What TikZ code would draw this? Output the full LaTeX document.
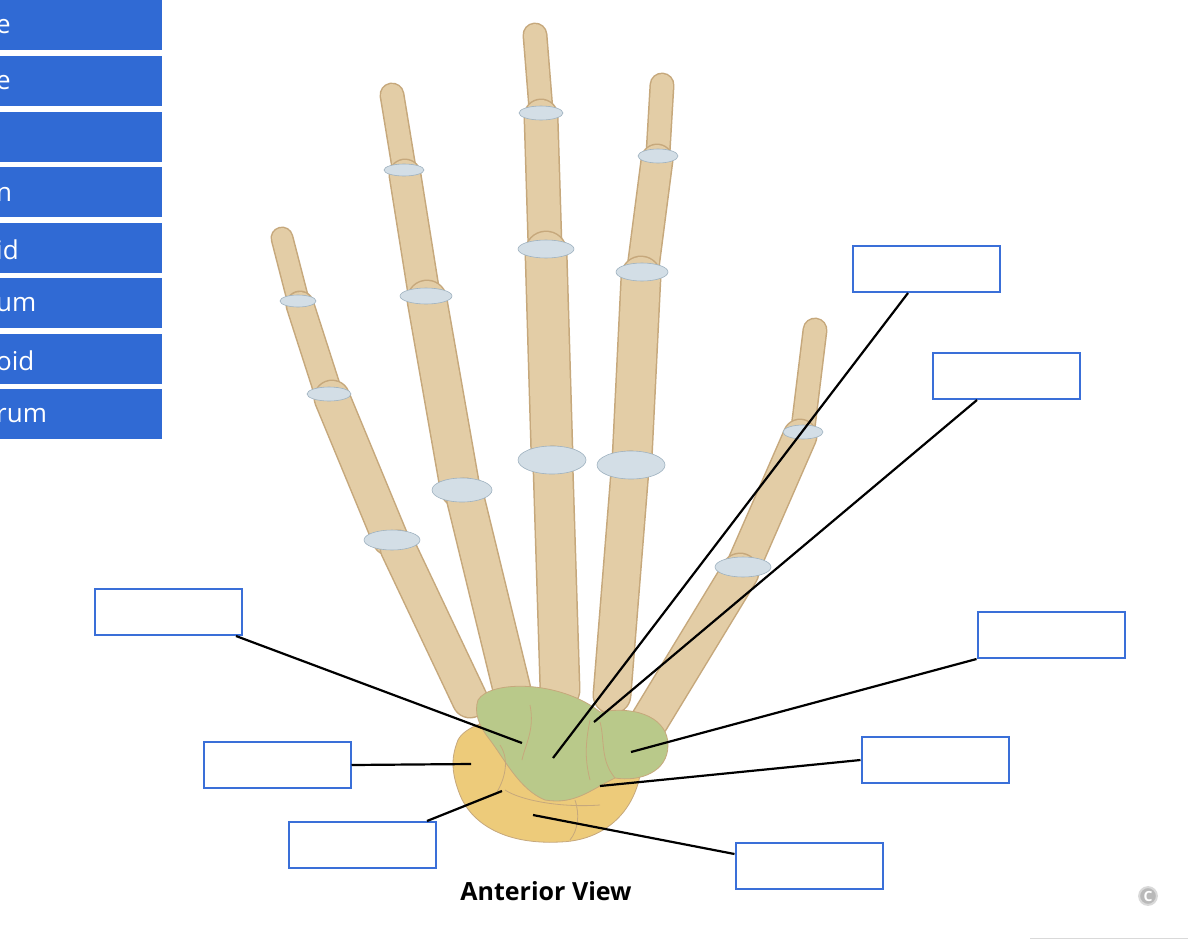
\documentclass[tikz,border=0pt]{standalone}
\usepackage{fontspec}
\setmainfont{Open Sans}
\begin{document}
\begin{tikzpicture}[x=1pt,y=-1pt,
  tab/.style={fill=tabblue,draw=none},
  lbox/.style={draw=boxblue,line width=2pt,fill=white,minimum width=147pt,minimum height=46pt,inner sep=0pt},
  lead/.style={line width=2.2pt,black},
  bonef/.style={line cap=round,draw=bonetan},
  boneo/.style={line cap=round,draw=boneline},
  jnt/.style={fill=jointblue,draw=jointline,line width=0.6pt},
  carp/.style={draw=boneline,line width=0.8pt}]
\definecolor{tabblue}{HTML}{306AD4}
\definecolor{boxblue}{HTML}{3A6FD8}
\definecolor{bonetan}{HTML}{E3CDA6}
\definecolor{boneline}{HTML}{C6A87C}
\definecolor{jointblue}{HTML}{D3DEE6}
\definecolor{jointline}{HTML}{9FB2C0}
\definecolor{carpgreen}{HTML}{B9C98A}
\definecolor{carpyellow}{HTML}{EDCB7A}
\useasboundingbox (0,0) rectangle (1188,940);
\fill[white] (0,0) rectangle (1188,940);
% tabs
\foreach \ya/\yb/\t in {0/50/e,56/106/e,112/162/{},167/217/n,223/273/id,278/328/um,334/384/oid,389/439/rum}{
  \fill[tab] (0,\ya) rectangle (162,\yb);
  \begin{scope}
  \clip (0,\ya) rectangle (162,\yb);
  \node[anchor=west,text=white,font=\fontsize{26}{26}\selectfont,inner sep=0pt] at (-4,{(\ya+\yb)/2+2}) {\t};
  \end{scope}
}
\newcommand\mybone[3]{\draw[boneo,line width=#3+3pt] #1 -- #2; \draw[bonef,line width=#3] #1 -- #2;}
% little
\mybone{(282,238)}{(298,300)}{20pt}
\mybone{(300,305)}{(328,392)}{26pt}
\mybone{(332,398)}{(390,538)}{34pt}
\mybone{(398,548)}{(470,700)}{34pt}
% ring
\mybone{(392,95)}{(404,168)}{22pt}
\mybone{(405,175)}{(424,294)}{30pt}
\mybone{(427,300)}{(460,488)}{38pt}
\mybone{(465,497)}{(512,690)}{36pt}
% middle
\mybone{(535,35)}{(541,110)}{22pt}
\mybone{(541,116)}{(545,246)}{32pt}
\mybone{(546,252)}{(552,455)}{40pt}
\mybone{(553,466)}{(560,690)}{38pt}
% index
\mybone{(662,85)}{(658,153)}{22pt}
\mybone{(657,160)}{(643,268)}{30pt}
\mybone{(641,276)}{(632,460)}{38pt}
\mybone{(630,470)}{(612,695)}{36pt}
% thumb
\mybone{(815,330)}{(803,428)}{22pt}
\mybone{(800,436)}{(745,562)}{32pt}
\mybone{(740,572)}{(650,720)}{36pt}
% joints
\foreach \x/\y/\w/\h in {298/301/18/6,329/394/22/7,392/540/28/10,404/170/20/6,426/296/26/8,462/490/30/12,541/113/22/7,546/249/28/9,552/460/34/14,658/156/20/7,642/272/26/9,631/465/34/14,803/432/20/7,743/567/28/10}
  \filldraw[jnt] (\x,\y) ellipse ({\w} and {\h});
% carpal base
\filldraw[carp,fill=carpyellow] (458,740) .. controls (470,715) and (560,700) .. (640,735) .. controls (650,790) and (620,840) .. (560,842) .. controls (500,845) and (470,820) .. (460,795) .. controls (450,770) and (452,755) .. (458,740) -- cycle;
\filldraw[carp,fill=carpgreen] (478,700) .. controls (490,680) and (560,680) .. (600,712) .. controls (640,705) and (668,720) .. (668,745) .. controls (668,772) and (640,782) .. (615,778) .. controls (590,790) and (575,805) .. (545,800) .. controls (520,790) and (505,760) .. (490,740) .. controls (478,725) and (474,712) .. (478,700) -- cycle;
\draw[carp] (530,705) .. controls (535,730) and (525,745) .. (522,760);
\draw[carp] (590,720) .. controls (585,745) and (585,760) .. (590,780);
\draw[carp] (600,722) .. controls (605,740) and (600,760) .. (615,778);
\draw[carp] (505,790) .. controls (520,800) and (560,808) .. (600,805);
\draw[carp] (500,745) .. controls (510,760) and (505,780) .. (495,795);
\draw[carp] (575,800) .. controls (580,815) and (578,830) .. (570,840);
% label boxes
\node[lbox] (b1) at (926,269) {};
\node[lbox] (b2) at (1006,376) {};
\node[lbox] (b3) at (168,612) {};
\node[lbox] (b4) at (1051,635) {};
\node[lbox] (b5) at (277,765) {};
\node[lbox] (b6) at (935,760) {};
\node[lbox] (b7) at (362,845) {};
\node[lbox] (b8) at (809,866) {};
\coordinate (p1) at (553,758);
\coordinate (p2) at (594,722);
\coordinate (p3) at (522,743);
\coordinate (p4) at (631,752);
\coordinate (p5) at (471,764);
\coordinate (p6) at (600,786);
\coordinate (p7) at (502,791);
\coordinate (p8) at (533,815);
\draw[lead] (b1.south)++(-18,0) -- (p1);
\draw[lead] (b2.south)++(-29,0) -- (p2);
\draw[lead] (b3.south)++(68,0) -- (p3);
\draw[lead] (b4.south west) -- (p4);
\draw[lead] (b5.east) -- (p5);
\draw[lead] (b6.west) -- (p6);
\draw[lead] (b7.north)++(65,0) -- (p7);
\draw[lead] (b8.west)++(0,-12) -- (p8);
\node[font=\fontsize{25}{25}\selectfont\bfseries] (cap) at (546,891) {Anterior View};
\node[circle,fill=gray!55,draw=gray!30,line width=2pt,text=white,inner sep=1.5pt,font=\fontsize{14}{14}\selectfont\bfseries] (copy) at (1148,896) {C};
\draw[gray!30] (1030,938) -- (1188,938);
\end{tikzpicture}
\end{document}
